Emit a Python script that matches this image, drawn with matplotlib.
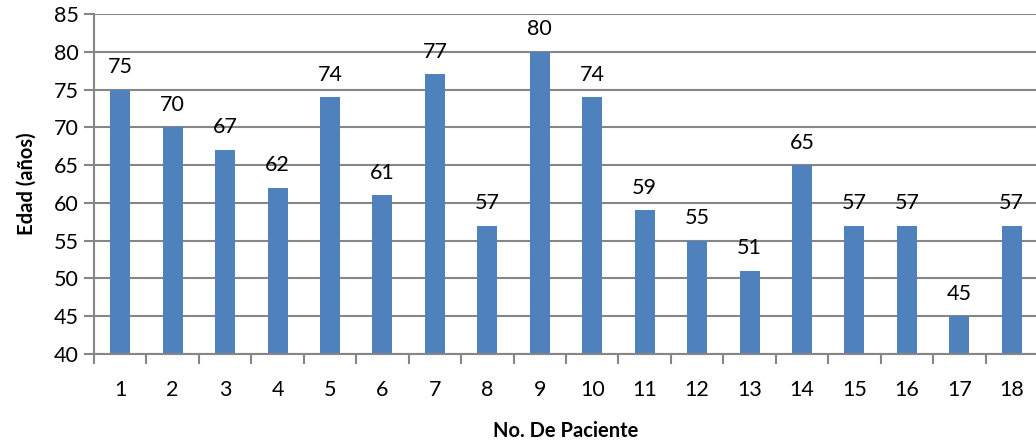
import matplotlib
matplotlib.use("Agg")
import matplotlib.pyplot as plt
import numpy as np

plt.rcParams['font.family'] = ['Lato', 'DejaVu Sans']

pacientes = [str(i) for i in range(1, 19)]
edades = [75, 70, 67, 62, 74, 61, 77, 57, 80, 74, 59, 55, 51, 65, 57, 57, 45, 57]

bar_color = '#4F81BD'
grid_color = '#868686'

fig = plt.figure(figsize=(10.36, 4.45), dpi=100)
ax = fig.add_axes([94 / 1036, 1 - 354 / 445, 944 / 1036, 340 / 445])

x = np.arange(len(edades))
ax.bar(x, edades, width=0.38, color=bar_color, bottom=0, zorder=3)
ax.set_ylim(40, 85)
ax.set_xlim(-0.5, len(edades) - 0.5)
ax.set_yticks(range(40, 86, 5))
ax.yaxis.grid(True, color=grid_color, linewidth=1.5, zorder=0)

for xi, v in zip(x, edades):
    ax.annotate(str(v), (xi, v), xytext=(0, 9), textcoords='offset points',
                ha='center', va='bottom', fontsize=15.5, color='black')

# category ticks at boundaries, labels at centers
ax.set_xticks(np.arange(-0.5, len(edades), 1.0))
ax.set_xticklabels([])
ax.set_xticks(x, minor=True)
ax.set_xticklabels(pacientes, minor=True, fontsize=15.5)
ax.tick_params(axis='x', which='major', length=7, width=1.5, color=grid_color, direction='out')
ax.tick_params(axis='x', which='minor', length=0, pad=19)
ax.tick_params(axis='y', length=7, width=1.5, color=grid_color, labelsize=15.5, pad=4)

for s in ['top', 'right']:
    ax.spines[s].set_visible(False)
for s in ['left', 'bottom']:
    ax.spines[s].set_color(grid_color)
    ax.spines[s].set_linewidth(1.5)
ax.spines['bottom'].set_zorder(4)

ax.set_xlabel('No. De Paciente', fontsize=14.5, fontweight='bold', labelpad=15)
ax.set_ylabel('Edad (años)', fontsize=14.5, fontweight='bold', labelpad=12)

fig.savefig('out.png', dpi=100)
